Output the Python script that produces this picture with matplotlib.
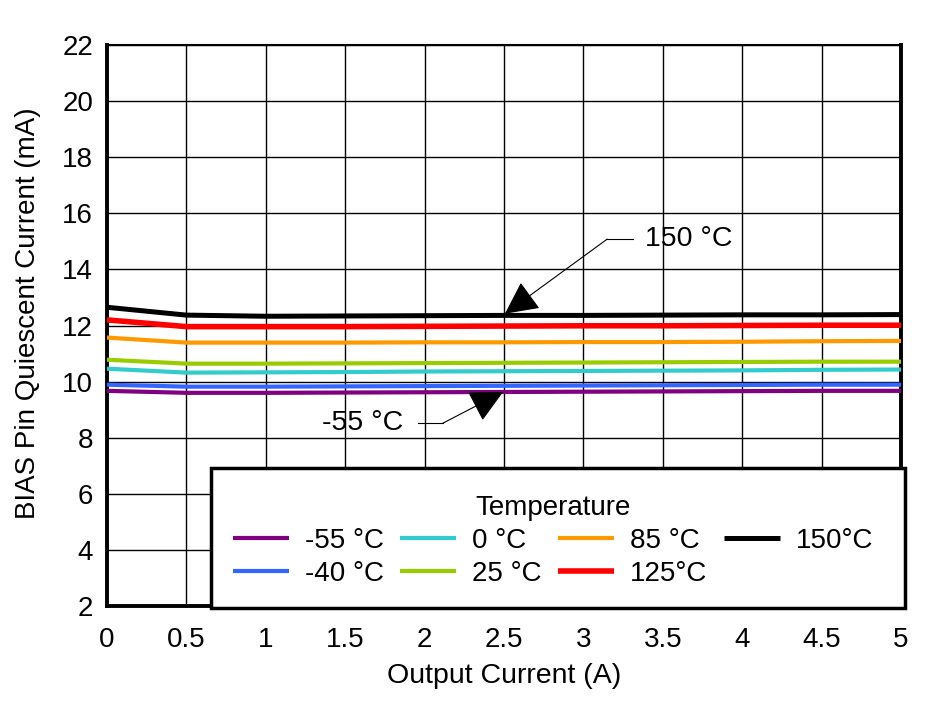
import matplotlib
matplotlib.use("Agg")
import matplotlib.pyplot as plt
from matplotlib.patches import Rectangle

plt.rcParams['font.family'] = ['Liberation Sans', 'DejaVu Sans']

# Data
output_current = [0, 0.5, 1, 1.5, 2, 2.5, 3, 3.5, 4, 4.5, 5]
labels = ['-55 °C', '-40 °C', '0 °C', '25 °C', '85 °C', '125°C', '150°C']
i_m55 = [9.67, 9.60, 9.60, 9.61, 9.62, 9.63, 9.64, 9.65, 9.66, 9.67, 9.67]
i_m40 = [9.89, 9.82, 9.82, 9.83, 9.84, 9.85, 9.86, 9.87, 9.88, 9.89, 9.89]
i_0 = [10.46, 10.32, 10.33, 10.34, 10.36, 10.37, 10.38, 10.39, 10.40, 10.42, 10.43]
i_25 = [10.78, 10.64, 10.64, 10.65, 10.66, 10.67, 10.68, 10.69, 10.70, 10.71, 10.71]
i_85 = [11.57, 11.39, 11.39, 11.39, 11.40, 11.40, 11.41, 11.41, 11.42, 11.44, 11.45]
i_125 = [12.20, 11.96, 11.96, 11.96, 11.97, 11.98, 11.99, 11.99, 12.00, 12.01, 12.01]
i_150 = [12.65, 12.37, 12.33, 12.34, 12.35, 12.36, 12.36, 12.37, 12.38, 12.38, 12.39]
series = [i_m55, i_m40, i_0, i_25, i_85, i_125, i_150]
colors = ['#800080', '#3366FF', '#33CCCC', '#99CC00', '#FF9900', '#FF0000', '#000000']
widths = [3, 3, 3, 3, 3, 4, 3.6]
x_ticks = [0, 0.5, 1, 1.5, 2, 2.5, 3, 3.5, 4, 4.5, 5]
x_ticklabels = ['0', '0.5', '1', '1.5', '2', '2.5', '3', '3.5', '4', '4.5', '5']
y_ticks = [2, 4, 6, 8, 10, 12, 14, 16, 18, 20, 22]

FS = 20

fig = plt.figure(figsize=(9.32, 7.01), dpi=100)
ax = fig.add_axes([107/932, 1-606/701, (901-107)/932, (606-45)/701])

handles = []
for ys, c, lw, lab in zip(series, colors, widths, labels):
    h, = ax.plot(output_current, ys, color=c, lw=lw, label=lab, solid_capstyle='butt', zorder=3)
    handles.append(h)

ax.set_xlim(0, 5)
ax.set_ylim(2, 22)
ax.set_xticks(x_ticks)
ax.set_xticklabels(x_ticklabels)
ax.set_yticks(y_ticks)
ax.tick_params(axis='both', length=0, labelsize=FS)
ax.tick_params(axis='x', pad=15)
ax.tick_params(axis='y', pad=10)
ax.grid(True, color='black', lw=1)
ax.set_axisbelow(True)
for s in ['left', 'right', 'bottom']:
    ax.spines[s].set_linewidth(2.8)
ax.spines['top'].set_linewidth(1.5)
ax.set_xlabel('Output Current (A)', fontsize=20.5, labelpad=7.5)
ax.set_ylabel('BIAS Pin Quiescent Current (mA)', fontsize=FS, labelpad=15)
ax.yaxis.label.set_y(0.522)

# Annotations
ax.text(3.39, 15.1, '150 °C', fontsize=20.5, va='center', ha='left')
ax.plot([3.31, 3.15], [15.08, 15.08], color='black', lw=0.8)
ax.annotate('', xy=(2.506, 12.42), xytext=(3.15, 15.08),
            arrowprops=dict(arrowstyle='-|>,head_length=0.6,head_width=0.3',
                            mutation_scale=35, color='black', lw=0.8,
                            shrinkA=0, shrinkB=0))
ax.text(1.864, 8.52, '-55 °C', fontsize=20.5, va='center', ha='right')
ax.plot([1.958, 2.116], [8.52, 8.52], color='black', lw=0.8)
ax.annotate('', xy=(2.494, 9.63), xytext=(2.116, 8.52),
            arrowprops=dict(arrowstyle='-|>,head_length=0.6,head_width=0.3',
                            mutation_scale=35, color='black', lw=0.8,
                            shrinkA=0, shrinkB=0))

# Legend box
box = Rectangle((211/932, 1-608/701), (905-211)/932, (608-468)/701,
                transform=fig.transFigure, facecolor='white', edgecolor='black',
                lw=2.5, zorder=4, clip_on=False)
ax.add_patch(box)
leg = ax.legend(handles=handles, ncol=4, title='Temperature', fontsize=FS,
                title_fontsize=FS, frameon=False, loc='upper left',
                bbox_to_anchor=(233/932, 1-495/701), bbox_transform=fig.transFigure,
                borderpad=0, borderaxespad=0, handlelength=2.0, handletextpad=0.58,
                columnspacing=0.6, labelspacing=0.25)
leg.set_zorder(5)

fig.savefig('out.png', dpi=100)
